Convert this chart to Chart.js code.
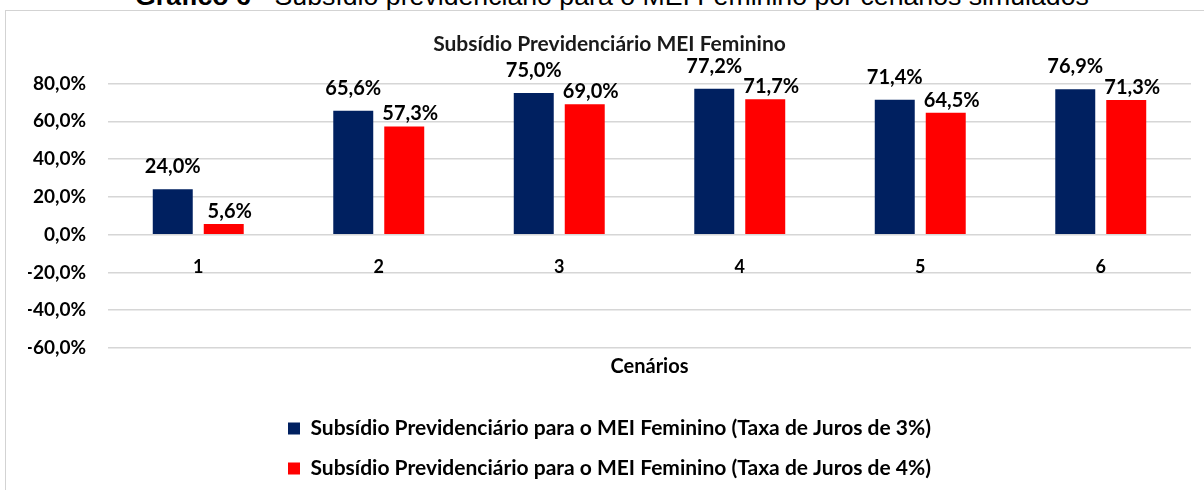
<!DOCTYPE html>
<html><head><meta charset="utf-8">
<script src="https://cdn.jsdelivr.net/npm/chart.js@4"></script>
<style>
html,body{margin:0;padding:0;width:1204px;height:490px;overflow:hidden;background:#fff;}
#frame{position:absolute;left:5px;top:10px;width:1300px;height:600px;border:1px solid #d3d3d3;box-sizing:border-box;}
#cap{position:absolute;left:0;top:-19px;width:1224px;text-align:center;font-family:"Liberation Sans",Arial,sans-serif;font-size:26.7px;line-height:30px;color:#000;white-space:nowrap;}
#wrap{position:absolute;left:0;top:0;width:1204px;height:490px;}
</style></head><body>
<div id="frame"></div>
<div id="cap"><b>Gráfico 6</b> - Subsídio previdenciário para o MEI Feminino por cenários simulados</div>
<div id="wrap"><canvas id="c" width="1204" height="490"></canvas></div>
<script>
const categories = ['1', '2', '3', '4', '5', '6'];
const taxa3 = [24.0, 65.6, 75.0, 77.2, 71.4, 76.9];
const taxa4 = [5.6, 57.3, 69.0, 71.7, 64.5, 71.3];
const seriesNames = [
  'Subsídio Previdenciário para o MEI Feminino (Taxa de Juros de 3%)',
  'Subsídio Previdenciário para o MEI Feminino (Taxa de Juros de 4%)'
];
const yMin = -60, yMax = 80, yStep = 20;
const chartTitle = 'Subsídio Previdenciário MEI Feminino';
const xTitle = 'Cenários';

const FONT = 'Lato';
const fmt = v => v.toFixed(1).replace('.', ',') + '%';

const valueLabels = {
  id: 'valueLabels',
  afterDatasetsDraw(chart) {
    const ctx = chart.ctx;
    ctx.save();
    ctx.font = 'bold 20px ' + FONT;
    ctx.fillStyle = '#000';
    ctx.textAlign = 'center';
    ctx.textBaseline = 'alphabetic';
    chart.data.datasets.forEach((ds, i) => {
      const off = ds.labelOffset || {dx: 0, dy: 10};
      chart.getDatasetMeta(i).data.forEach((bar, j) => {
        ctx.fillText(fmt(ds.data[j]), bar.x + off.dx, bar.y - off.dy);
      });
    });
    ctx.restore();
  }
};

new Chart(document.getElementById('c'), {
  type: 'bar',
  data: {
    labels: categories,
    datasets: [
      {label: seriesNames[0], data: taxa3, backgroundColor: '#002060', categoryPercentage: 0.565, barPercentage: 0.784, labelOffset: {dx: 0, dy: 16}},
      {label: seriesNames[1], data: taxa4, backgroundColor: '#ff0000', categoryPercentage: 0.565, barPercentage: 0.784, labelOffset: {dx: 6, dy: 6}}
    ]
  },
  options: {
    responsive: false,
    animation: false,
    devicePixelRatio: 1,
    layout: {padding: {left: 28, right: 13, top: 0, bottom: 1}},
    scales: {
      x: {
        position: {y: 0},
        grid: {display: false, drawTicks: false},
        border: {display: false},
        ticks: {font: {family: FONT, size: 18, weight: 'bold'}, color: '#000', padding: 22},
        afterFit: s => { s.height = 0; }
      },
      y: {
        min: yMin, max: yMax,
        grid: {color: '#d6d6d6', lineWidth: 1.5, drawTicks: false},
        border: {display: false},
        ticks: {stepSize: yStep, font: {family: FONT, size: 19, weight: 'bold'}, color: '#000', padding: 22, callback: v => fmt(v)},
        afterFit: s => { s.width = 80; }
      }
    },
    plugins: {
      tooltip: {enabled: false},
      title: {display: true, text: chartTitle, font: {family: FONT, size: 21, weight: 'bold'}, color: '#1a1a1a', padding: {top: 31.4, bottom: 26.9}},
      subtitle: {display: true, text: xTitle, position: 'bottom', fullSize: false, weight: 500, font: {family: FONT, size: 20, weight: 'bold'}, color: '#000', padding: {top: 7, bottom: 20}},
      legend: {position: 'bottom', labels: {boxWidth: 12, boxHeight: 12, padding: 19, color: '#000', font: {family: FONT, size: 21, weight: 'bold'}}}
    }
  },
  plugins: [valueLabels]
});
</script>
</body></html>
